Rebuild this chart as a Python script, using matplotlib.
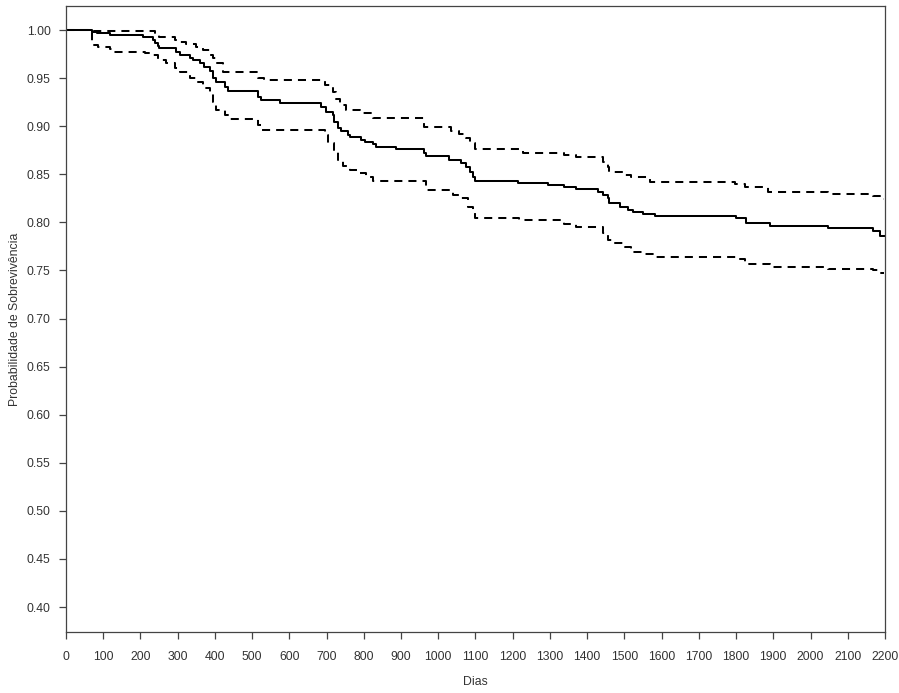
import matplotlib
matplotlib.use('Agg')
import matplotlib.pyplot as plt

# Kaplan-Meier estimate (step change times in days, survival after the step)
km_days = [0, 69, 84, 117, 206, 235, 240, 246, 251, 296, 305, 332, 341, 359, 372,
           386, 394, 404, 426, 434, 515, 525, 574, 686, 699, 717, 721, 730, 739,
           757, 762, 793, 802, 824, 833, 887, 963, 968, 1030, 1062, 1075, 1084,
           1093, 1098, 1214, 1295, 1339, 1371, 1429, 1442, 1455, 1460, 1487, 1510,
           1523, 1550, 1581, 1801, 1828, 1890, 2047, 2167, 2186, 2197]
km_surv = [1.0, 0.9982, 0.9966, 0.9945, 0.9924, 0.9896, 0.9862, 0.9834, 0.9816,
           0.9776, 0.974, 0.9706, 0.9688, 0.966, 0.9618, 0.9574, 0.950, 0.9462,
           0.941, 0.9369, 0.9306, 0.9272, 0.9244, 0.9202, 0.915, 0.9116, 0.9046,
           0.8978, 0.895, 0.8908, 0.8884, 0.8856, 0.8839, 0.8811, 0.8787, 0.8763,
           0.8718, 0.869, 0.8648, 0.862, 0.8579, 0.8527, 0.8475, 0.8433, 0.8412,
           0.8388, 0.8364, 0.8344, 0.8319, 0.8284, 0.825, 0.8198, 0.8163, 0.8128,
           0.8111, 0.8087, 0.8066, 0.8042, 0.799, 0.7965, 0.7938, 0.7913, 0.7858,
           0.7858]

# upper confidence limit
up_days = [0, 69, 238, 251, 292, 300, 323, 350, 368, 386, 394, 404, 421, 515, 533,
           695, 717, 726, 735, 753, 789, 824, 963, 1035, 1057, 1075, 1084, 1098,
           1227, 1339, 1371, 1442, 1456, 1460, 1501, 1519, 1568, 1796, 1823, 1886,
           2047, 2168, 2186, 2197]
up_surv = [1.0, 0.999, 0.9948, 0.993, 0.9896, 0.9878, 0.9854, 0.9826, 0.9792,
           0.974, 0.9706, 0.9654, 0.9566, 0.9498, 0.948, 0.9428, 0.9358, 0.9279,
           0.922, 0.9168, 0.914, 0.9085, 0.8994, 0.8953, 0.8919, 0.8874, 0.8822,
           0.8758, 0.8724, 0.87, 0.8676, 0.8631, 0.8579, 0.8527, 0.8492, 0.8468,
           0.842, 0.8399, 0.8364, 0.8315, 0.8295, 0.8274, 0.824, 0.824]

# lower confidence limit
lo_days = [0, 69, 85, 117, 126, 211, 233, 247, 269, 292, 305, 332, 350, 368, 386,
           394, 404, 426, 439, 515, 524, 695, 703, 721, 730, 744, 762, 789, 807,
           824, 968, 1039, 1057, 1080, 1093, 1098, 1218, 1339, 1371, 1442, 1456,
           1469, 1501, 1519, 1550, 1581, 1801, 1823, 1890, 2047, 2168, 2186, 2197]
lo_surv = [1.0, 0.9844, 0.9826, 0.98, 0.9774, 0.9758, 0.974, 0.9688, 0.9654,
           0.9602, 0.9566, 0.9498, 0.9462, 0.9394, 0.9358, 0.9254, 0.9168, 0.9116,
           0.9071, 0.9012, 0.896, 0.8908, 0.8822, 0.8752, 0.8648, 0.8586, 0.8544,
           0.851, 0.8475, 0.843, 0.8336, 0.8284, 0.825, 0.8163, 0.8094, 0.8042,
           0.8024, 0.7983, 0.7948, 0.7886, 0.7816, 0.7782, 0.774, 0.7695, 0.7671,
           0.7643, 0.7616, 0.7567, 0.7536, 0.7512, 0.7504, 0.747, 0.747]

x_ticks = list(range(0, 2201, 100))
y_ticks = [0.40, 0.45, 0.50, 0.55, 0.60, 0.65, 0.70, 0.75, 0.80, 0.85, 0.90, 0.95, 1.00]

plt.rcParams['font.family'] = ['Liberation Sans', 'DejaVu Sans']
fg = '#333333'

fig = plt.figure(figsize=(8.99, 6.93), dpi=100)
ax = fig.add_axes([0.0734, 0.0887, 0.911, 0.9026])

ax.step(km_days, km_surv, where='post', color='black', lw=1.45)
ax.step(up_days, up_surv, where='post', color='black', lw=1.45, dashes=(4, 3))
ax.step(lo_days, lo_surv, where='post', color='black', lw=1.45, dashes=(4, 3))

ax.set_xlim(0, 2200)
ax.set_ylim(0.3745, 1.025)
ax.set_xticks(x_ticks)
ax.set_xticklabels([str(t) for t in x_ticks])
ax.set_yticks(y_ticks)
ax.set_yticklabels([f'{t:.2f}' for t in y_ticks])

for s in ax.spines.values():
    s.set_color('#444444')
    s.set_linewidth(0.9)
ax.tick_params(axis='both', direction='out', length=5, width=0.9, color='#444444',
               labelsize=8.8, labelcolor=fg)
ax.tick_params(axis='x', pad=9)
ax.tick_params(axis='y', pad=6)

# axis titles placed where the reference has them
fig.text(475.5 / 899, 1 - 682 / 693, 'Dias', fontsize=8.8, color=fg,
         ha='center', va='center')
fig.text(15 / 899, 1 - 319 / 693, 'Probabilidade de Sobrevivência', fontsize=8.8,
         color=fg, rotation=90, ha='center', va='center')

plt.savefig('out.png', dpi=100)
